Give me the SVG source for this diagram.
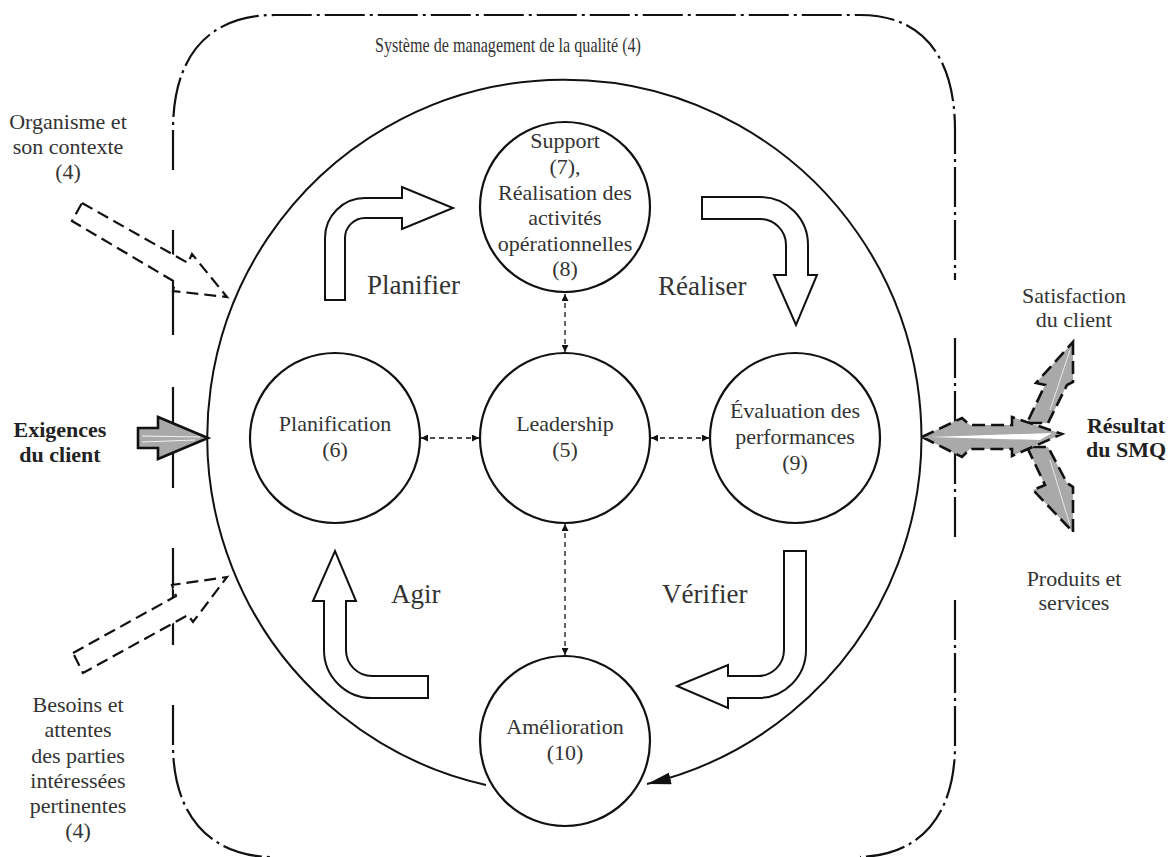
<svg xmlns="http://www.w3.org/2000/svg" width="1171" height="857" viewBox="0 0 1171 857">
<style>
text{font-family:"Liberation Serif","Times New Roman",serif;fill:#333;}
.nt{font-size:22px;text-anchor:middle;}
.lb{font-size:27px;}
.ot{font-size:22px;text-anchor:middle;}
.bd{font-size:22px;font-weight:bold;text-anchor:middle;fill:#222;}
.frame{fill:none;stroke:#111;stroke-width:2.2;stroke-dasharray:40 5 3 5;}
.fr2{fill:none;stroke:#111;stroke-width:2.2;}
.node{fill:#fff;stroke:#111;stroke-width:2.2;}
.pdca{fill:#fff;stroke:#111;stroke-width:2;stroke-linejoin:miter;}
.conn{fill:none;stroke:#111;stroke-width:1.3;stroke-dasharray:5 4;}
.inp{fill:#fff;stroke:#111;stroke-width:2.2;stroke-dasharray:12 6;}
.gray{fill:#a9a9a9;stroke:#111;stroke-width:2.6;stroke-dasharray:13 6;stroke-linejoin:miter;}
</style>
<defs>
<marker id="ah" viewBox="0 0 10 10" refX="10" refY="5" markerWidth="10" markerHeight="7" markerUnits="userSpaceOnUse" orient="auto-start-reverse">
<path d="M0,0 L10,5 L0,10 Z" fill="#111"/>
</marker>
<marker id="bigah" viewBox="0 0 24 12" refX="24" refY="6" markerWidth="24" markerHeight="12" markerUnits="userSpaceOnUse" orient="auto">
<path d="M0,0 L24,6 L0,12 Z" fill="#111"/>
</marker>
</defs>

<g id="frame">
<path class="frame" d="M173 170 L173 130 C173 60 205 15 275 15 L860 15 C925 15 955 60 955 130 L955 280"/>
<path class="fr2" d="M173 230 L173 335 M173 387 L173 430 M173 450 L173 488 M173 548 L173 645"/>
<path class="frame" d="M173 705 L173 745 C173 810 205 855 270 857"/>
<path class="frame" d="M955 338 L955 537"/>
<path class="frame" d="M955 600 L955 745 C955 810 925 855 860 857"/>
<text x="375" y="52" font-size="21" textLength="266" lengthAdjust="spacingAndGlyphs">Système de management de la qualité (4)</text>
</g>

<g id="cycle">
<path d="M486 785 A357 357 0 1 1 647 784" fill="none" stroke="#111" stroke-width="2" marker-end="url(#bigah)"/>
</g>

<g id="pdca-arrows">
<path class="pdca" d="M325 300 L325 238 A40 40 0 0 1 365 198 L402 198 L402 187 L453 208 L402 229 L402 218 L365 218 A20 20 0 0 0 345 238 L345 300 Z"/>
<path class="pdca" d="M702 197 L760 197 A48 48 0 0 1 808 245 L808 275 L817 275 L796 325 L774 275 L786 275 L786 245 A26 26 0 0 0 760 219 L702 219 Z"/>
<path class="pdca" d="M784 551 L806 551 L806 650 A48 48 0 0 1 758 698 L728 698 L728 708 L677 686 L728 665 L728 676 L758 676 A26 26 0 0 0 784 650 Z"/>
<path class="pdca" d="M428 676 L372 676 A26 26 0 0 1 346 650 L346 601 L356 601 L335 551 L313 601 L324 601 L324 650 A48 48 0 0 0 372 698 L428 698 Z"/>
<text x="367" y="294" class="lb">Planifier</text>
<text x="658" y="295" class="lb">Réaliser</text>
<text x="391" y="603" class="lb">Agir</text>
<text x="662" y="603" class="lb">Vérifier</text>
</g>

<g id="connectors">
<line class="conn" x1="565" y1="294" x2="565" y2="352" marker-start="url(#ah)" marker-end="url(#ah)"/>
<line class="conn" x1="421" y1="438" x2="479" y2="438" marker-start="url(#ah)" marker-end="url(#ah)"/>
<line class="conn" x1="651" y1="438" x2="709" y2="438" marker-start="url(#ah)" marker-end="url(#ah)"/>
<line class="conn" x1="565" y1="524" x2="565" y2="655" marker-start="url(#ah)" marker-end="url(#ah)"/>
</g>

<g id="node-support">
<circle class="node" cx="565" cy="207" r="85"/>
<text class="nt" x="565" y="148">Support</text>
<text class="nt" x="565" y="174">(7),</text>
<text class="nt" x="565" y="200">Réalisation des</text>
<text class="nt" x="565" y="225">activités</text>
<text class="nt" x="565" y="251">opérationnelles</text>
<text class="nt" x="565" y="276">(8)</text>
</g>
<g id="node-planification">
<circle class="node" cx="335" cy="438" r="85"/>
<text class="nt" x="335" y="431">Planification</text>
<text class="nt" x="335" y="457">(6)</text>
</g>
<g id="node-leadership">
<circle class="node" cx="565" cy="438" r="85"/>
<text class="nt" x="565" y="431">Leadership</text>
<text class="nt" x="565" y="457">(5)</text>
</g>
<g id="node-evaluation">
<circle class="node" cx="795" cy="438" r="85"/>
<text class="nt" x="795" y="418">Évaluation des</text>
<text class="nt" x="795" y="444">performances</text>
<text class="nt" x="795" y="470">(9)</text>
</g>
<g id="node-amelioration">
<circle class="node" cx="565" cy="741" r="85"/>
<text class="nt" x="565" y="734">Amélioration</text>
<text class="nt" x="565" y="760">(10)</text>
</g>

<g id="input-organisme">
<path class="inp" d="M82 203 L188 263 L192 254 L227 297 L173 291 L175 282 L72 221 Z"/>
<text class="ot" x="68" y="129">Organisme et</text>
<text class="ot" x="68" y="154">son contexte</text>
<text class="ot" x="68" y="179">(4)</text>
</g>
<g id="input-exigences">
<path d="M138 428 L158 428 L158 417 L208 438 L158 459 L158 448 L138 448 Z" fill="#a9a9a9" stroke="#111" stroke-width="2.6"/>
<path d="M142 436 L200 437 M142 442 L195 440" stroke="#f2f2f2" stroke-width="1" fill="none"/>
<text class="bd" x="60" y="437">Exigences</text>
<text class="bd" x="60" y="462">du client</text>
</g>
<g id="input-besoins">
<path class="inp" d="M73 653 L176 596 L172 585 L227 577 L193 622 L188 615 L83 673 Z"/>
<text class="ot" x="78" y="712">Besoins et</text>
<text class="ot" x="78" y="737">attentes</text>
<text class="ot" x="78" y="763">des parties</text>
<text class="ot" x="78" y="788">intéressées</text>
<text class="ot" x="78" y="813">pertinentes</text>
<text class="ot" x="78" y="838">(4)</text>
</g>

<g id="output-resultat">
<path class="gray" d="M1073 342 L1073 382 L1067 385 L1048 423 L1027 423 L1045 385 L1036 383 Z"/>
<path class="gray" d="M1073 532 L1073 487 L1067 483 L1048 447 L1027 447 L1045 485 L1033 490 Z"/>
<path class="gray" d="M922 437 L962 418 L970 425 L1012 425 L1012 417 L1062 434 L1012 456 L1012 449 L970 449 L962 457 Z"/>
<path d="M930 437 L1052 433 L1040 440 Z" fill="#fff"/>
<path d="M1070 350 L1050 410 M1070 525 L1050 460" stroke="#e8e8e8" stroke-width="1" fill="none"/>
<text class="bd" x="1126" y="433">Résultat</text>
<text class="bd" x="1126" y="457">du SMQ</text>
<text class="ot" x="1074" y="303">Satisfaction</text>
<text class="ot" x="1074" y="327">du client</text>
<text class="ot" x="1074" y="586">Produits et</text>
<text class="ot" x="1074" y="610">services</text>
</g>
</svg>
